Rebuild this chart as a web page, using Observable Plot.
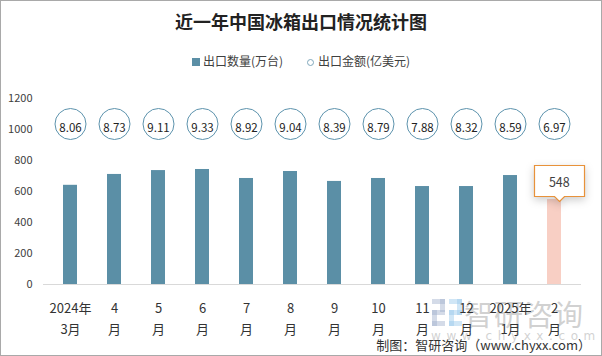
<!DOCTYPE html>
<html><head><meta charset="utf-8">
<script src="https://cdn.jsdelivr.net/npm/d3@7"></script>
<script src="https://cdn.jsdelivr.net/npm/@observablehq/plot@0.6"></script>
<style>
body{margin:0;background:#fff;}
#wrap{position:relative;width:602px;height:356px;box-sizing:border-box;border:1px solid #a9a9a9;overflow:hidden;font-family:"Noto Sans CJK SC","Noto Sans",sans-serif;background:#fff;}
#title{position:absolute;top:7px;left:0;width:100%;text-align:center;font-size:18px;font-weight:bold;color:#222;line-height:26px;}
#legend{position:absolute;top:51px;left:0;width:100%;text-align:center;font-size:12px;color:#404040;line-height:18px;}
#legend span.item{display:inline-block;margin:0 12px;}
#legend .sq{display:inline-block;width:8px;height:8px;background:#5b8fa6;margin-right:3px;vertical-align:0px;}
#legend .ci{display:inline-block;width:7px;height:7px;border:1px solid #7fa7bb;border-radius:50%;margin-right:4px;vertical-align:0px;box-sizing:border-box;}
#chart{position:absolute;left:0;top:0;z-index:2;}
#chart g[aria-label="tip"]{filter:none !important;}
#wm{position:absolute;left:463px;top:291px;font-size:29px;color:rgba(170,170,170,0.55);z-index:1;letter-spacing:1px;}
#wmurl{position:absolute;left:430px;top:328px;font-size:12px;color:rgba(180,180,180,0.6);letter-spacing:5.6px;z-index:1;font-family:"DejaVu Sans",sans-serif;}
#logo{position:absolute;left:431px;top:298px;width:30px;height:27px;z-index:1;}
#foot{position:absolute;right:10px;top:335px;font-size:13px;color:#333;z-index:3;line-height:18px;}
</style></head>
<body>
<div id="wrap">
  <div id="title">近一年中国冰箱出口情况统计图</div>
  <div id="legend"><span class="item"><span class="sq"></span>出口数量(万台)</span><span class="item"><span class="ci"></span>出口金额(亿美元)</span></div>
  <svg id="logo" viewBox="0 0 30 27"><rect x="0" y="0" width="13" height="5" fill="rgba(160,175,205,0.45)"/><rect x="8" y="0" width="5" height="13" fill="rgba(160,175,205,0.45)"/><rect x="0" y="11" width="13" height="5" fill="rgba(160,175,205,0.45)"/><rect x="0" y="11" width="5" height="16" fill="rgba(160,175,205,0.45)"/><rect x="0" y="22" width="13" height="5" fill="rgba(160,175,205,0.45)"/><rect x="17" y="0" width="13" height="5" fill="rgba(150,200,235,0.45)"/><rect x="25" y="0" width="5" height="16" fill="rgba(150,200,235,0.45)"/><rect x="17" y="11" width="13" height="5" fill="rgba(150,200,235,0.45)"/><rect x="17" y="11" width="5" height="16" fill="rgba(150,200,235,0.45)"/><rect x="17" y="22" width="13" height="5" fill="rgba(150,200,235,0.45)"/></svg>
  <div id="wm">智研咨询</div>
  <div id="wmurl">www.chyxx.com</div>
  <div id="chart"></div>
  <div id="foot">制图：智研咨询（www.chyxx.com）</div>
</div>
<script>
const months = ["2024年\n3月","4\n月","5\n月","6\n月","7\n月","8\n月","9\n月","10\n月","11\n月","12\n月","2025年\n1月","2\n月"];
const quantity = [640, 710, 735, 742, 684, 729, 665, 684, 632, 632, 703, 548];
const amount = [8.06, 8.73, 9.11, 9.33, 8.92, 9.04, 8.39, 8.79, 7.88, 8.32, 8.59, 6.97];
const yTicks = [0, 200, 400, 600, 800, 1000, 1200];

const data = months.map((m, i) => ({month: m, qty: quantity[i], amt: amount[i], last: i === months.length - 1}));
const fam = "'Noto Sans CJK SC','Noto Sans',sans-serif";

const chart = Plot.plot({
  width: 600,
  height: 354,
  marginTop: 97,
  marginBottom: 71,
  marginLeft: 42,
  marginRight: 20,
  style: {background: "transparent", fontFamily: fam, color: "#404040"},
  x: {domain: months, paddingInner: 0.69, paddingOuter: 0.36, label: null},
  y: {domain: [0, 1200], ticks: yTicks, label: null},
  marks: [
    Plot.axisY({ticks: yTicks, tickFormat: d => String(d), tickSize: 0, tickPadding: 11, fontSize: 11, fill: "#404040", label: null}),
    Plot.axisX({tickSize: 0, tickPadding: 14, fontSize: 13, fill: "#333", lineHeight: 1.6, label: null}),
    Plot.barY(data.filter(d => !d.last), {x: "month", y: "qty", fill: "#5b8fa6"}),
    Plot.barY(data.filter(d => d.last), {x: "month", y: "qty", fill: "#f8cfc4"}),
    Plot.ruleY([0], {stroke: "#d9d9d9", strokeWidth: 1}),
    Plot.dot(data, {x: "month", frameAnchor: "top", dy: 25.5, r: 15.5, stroke: "#5d93ad", strokeWidth: 1, fill: "white"}),
    Plot.text(data, {x: "month", text: d => d.amt.toFixed(2), frameAnchor: "top", dy: 25.5, fontSize: 11.5, fill: "#222"}),
    Plot.tip(data.filter(d => d.last), {x: "month", y: "qty", title: d => "\u00a0\u00a0\u00a0" + d.qty + "\u00a0\u00a0\u00a0", anchor: "bottom", fill: "white", stroke: "#e8923a", strokeWidth: 1.2, fontSize: 12.5, textPadding: 6, pointerSize: 10, dx: 5, dy: 2})
  ]
});
document.getElementById("chart").appendChild(chart);
</script>
</body></html>
